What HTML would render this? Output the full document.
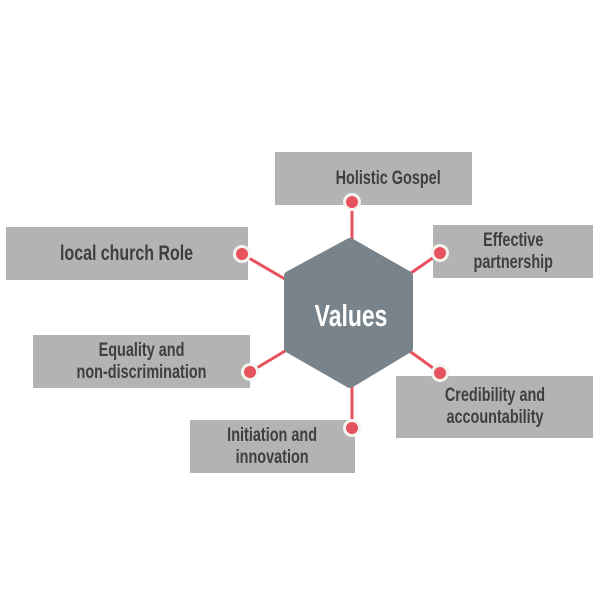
<!DOCTYPE html>
<html><head><meta charset="utf-8"><style>
html,body{margin:0;padding:0;background:#fff;width:600px;height:600px;overflow:hidden}
.b{position:absolute;background:#b3b3b3;display:flex;align-items:center;justify-content:center;text-align:center;font-family:"Liberation Sans",sans-serif;font-weight:bold;font-size:19px;line-height:22px;color:#3f3f3f}
.b span{display:inline-block;transform:scaleX(0.76);white-space:nowrap}
svg{position:absolute;left:0;top:0}
</style></head><body>
<div class="b" style="left:275px;top:152px;width:197px;height:53px;padding-left:30px;box-sizing:border-box"><span>Holistic Gospel</span></div>
<div class="b" style="left:6px;top:227px;width:242px;height:53px;font-size:21px"><span>local church Role</span></div>
<div class="b" style="left:433px;top:225px;width:160px;height:53px"><span>Effective<br>partnership</span></div>
<div class="b" style="left:33px;top:335px;width:217px;height:53px"><span>Equality and<br>non-discrimination</span></div>
<div class="b" style="left:396px;top:376px;width:197px;height:62px"><span>Credibility and<br>accountability</span></div>
<div class="b" style="left:190px;top:420px;width:165px;height:53px"><span>Initiation and<br>innovation</span></div>
<svg width="600" height="600">
<g stroke="#e8525d" stroke-width="3">
<line x1="352" y1="202" x2="352" y2="245"/>
<line x1="242" y1="254" x2="290" y2="282"/>
<line x1="440" y1="253" x2="408" y2="275"/>
<line x1="250" y1="372" x2="290" y2="348"/>
<line x1="440" y1="373" x2="408" y2="350"/>
<line x1="352" y1="428" x2="352" y2="385"/>
</g>
<path d="M350,243 L408,276 L408,348 L350,383 L289,348 L289,276 Z" fill="#78838b" stroke="#78838b" stroke-width="10" stroke-linejoin="round"/>
<text transform="translate(351,326) scale(0.74,1)" text-anchor="middle" font-family="Liberation Sans, sans-serif" font-weight="bold" font-size="31" fill="#fff">Values</text>
<g fill="#e8525d" stroke="#f3f3ef" stroke-width="3">
<circle cx="352" cy="202" r="7.5"/><circle cx="242" cy="254" r="7.5"/><circle cx="440" cy="253" r="7.5"/>
<circle cx="250" cy="372" r="7.5"/><circle cx="440" cy="373" r="7.5"/><circle cx="352" cy="428" r="7.5"/>
</g>
</svg>
</body></html>
